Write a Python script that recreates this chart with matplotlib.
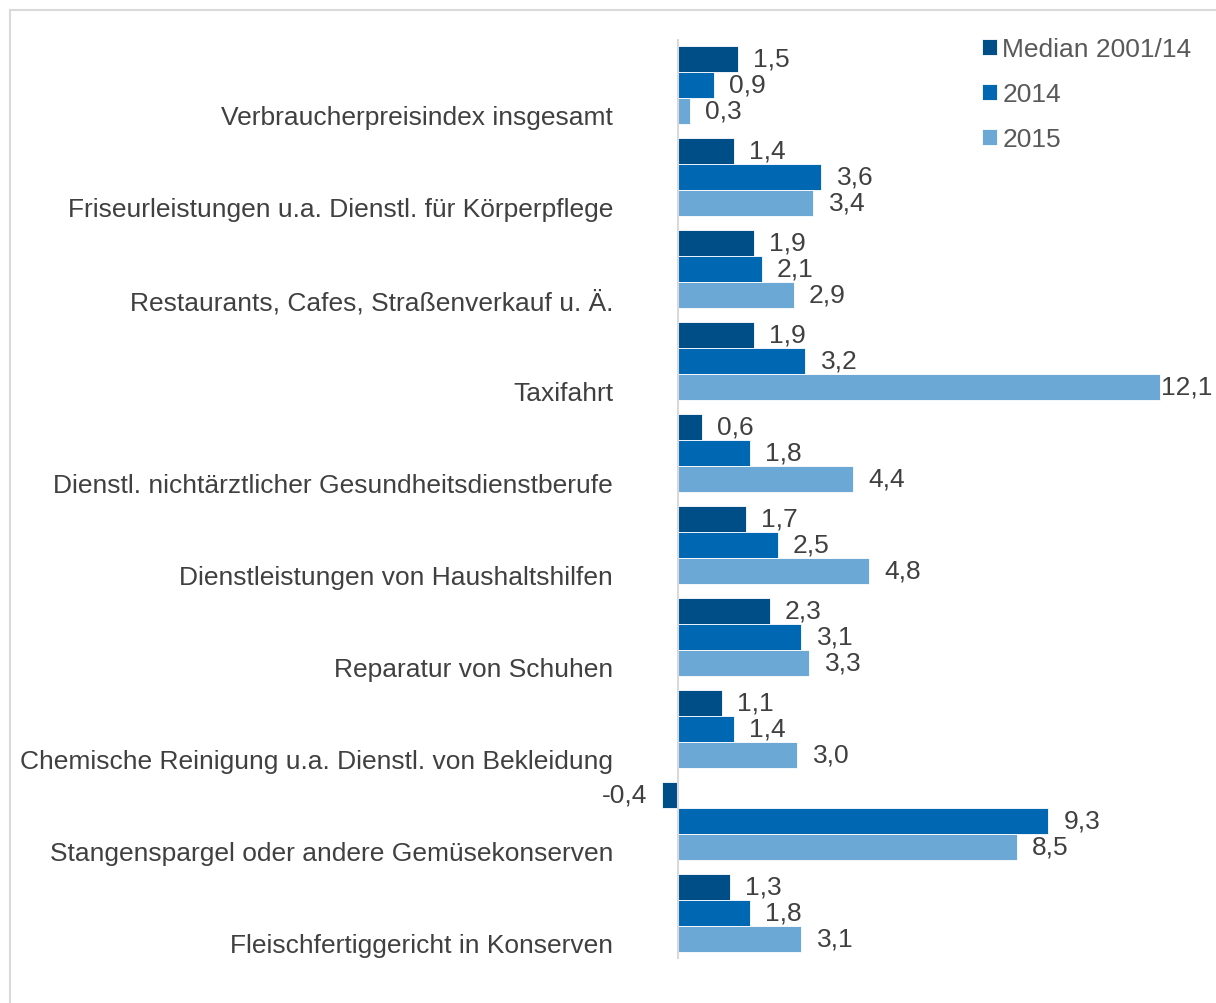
import numpy as np
import matplotlib
matplotlib.use("Agg")
import matplotlib.pyplot as plt
from matplotlib.patches import Rectangle

plt.rcParams['font.family'] = ['Liberation Sans', 'DejaVu Sans']

categories = [
    "Verbraucherpreisindex insgesamt",
    "Friseurleistungen u.a. Dienstl. für Körperpflege",
    "Restaurants, Cafes, Straßenverkauf u. Ä.",
    "Taxifahrt",
    "Dienstl. nichtärztlicher Gesundheitsdienstberufe",
    "Dienstleistungen von Haushaltshilfen",
    "Reparatur von Schuhen",
    "Chemische Reinigung u.a. Dienstl. von Bekleidung",
    "Stangenspargel oder andere Gemüsekonserven",
    "Fleischfertiggericht in Konserven",
]
median_0114 = [1.5, 1.4, 1.9, 1.9, 0.6, 1.7, 2.3, 1.1, -0.4, 1.3]
y2014 = [0.9, 3.6, 2.1, 3.2, 1.8, 2.5, 3.1, 1.4, 9.3, 1.8]
y2015 = [0.3, 3.4, 2.9, 12.1, 4.4, 4.8, 3.3, 3.0, 8.5, 3.1]
series_names = ["Median 2001/14", "2014", "2015"]
colors = ["#004E87", "#0068B2", "#6CA8D5"]

FS = 19
W, H = 1216, 1004
fig = plt.figure(figsize=(W / 100, H / 100), dpi=100)

# light frame around the chart (extends past right/bottom edge)
fig.patches.append(Rectangle((9.5 / W, -0.05), 1.2, 1 - 10.5 / H + 0.05,
                             transform=fig.transFigure, fill=False,
                             edgecolor="#D9D9D9", linewidth=1.5))

zero_px, scale = 678, 39.83
ax_left, ax_right = 655, 1216
ax = fig.add_axes([ax_left / W, (H - 960) / H, (ax_right - ax_left) / W, 920 / H])
ax.set_xlim((ax_left - zero_px) / scale, (ax_right - zero_px) / scale)

n = len(categories)
y = np.arange(n)
h = 26 / 92
series = [median_0114, y2014, y2015]
for k, vals in enumerate(series):
    pos = y + (k - 1) * h
    ax.barh(pos, vals, height=h, color=colors[k], label=series_names[k],
            edgecolor="white", linewidth=0.6)
    for p, v in zip(pos, vals):
        txt = f"{v:.1f}".replace(".", ",")
        end_px = zero_px + v * scale
        if v < 0:
            ax.annotate(txt, (v, p), xytext=(-11, 0), textcoords="offset points",
                        ha="right", va="center", fontsize=FS, color="#404040")
        elif end_px + 11 + 50 > W:
            ax.annotate(txt, (v, p), xytext=(1, 0), textcoords="offset points",
                        ha="left", va="center", fontsize=FS, color="#404040")
        else:
            ax.annotate(txt, (v, p), xytext=(11, 0), textcoords="offset points",
                        ha="left", va="center", fontsize=FS, color="#404040")

ax.set_ylim(n - 0.5, -0.5)
ax.axvline(0, color="#D9D9D9", linewidth=1.5)
ax.set_yticks(y + h + 4 / 92)
ax.set_yticklabels(categories, fontsize=FS, color="#404040")
ax.tick_params(axis="y", length=0, pad=(ax_left - 613) * 0.72)
ax.set_xticks([])
for s in ax.spines.values():
    s.set_visible(False)
ax.patch.set_alpha(0)

leg = fig.legend(loc="upper left", bbox_to_anchor=(982 / W, 1 - 38 / H),
                 frameon=False, fontsize=FS, handlelength=0.55, handleheight=0.55,
                 handletextpad=0.22, labelspacing=0.8, borderpad=0, borderaxespad=0)
for t in leg.get_texts():
    t.set_color("#595959")

fig.savefig("out.png", dpi=100)
